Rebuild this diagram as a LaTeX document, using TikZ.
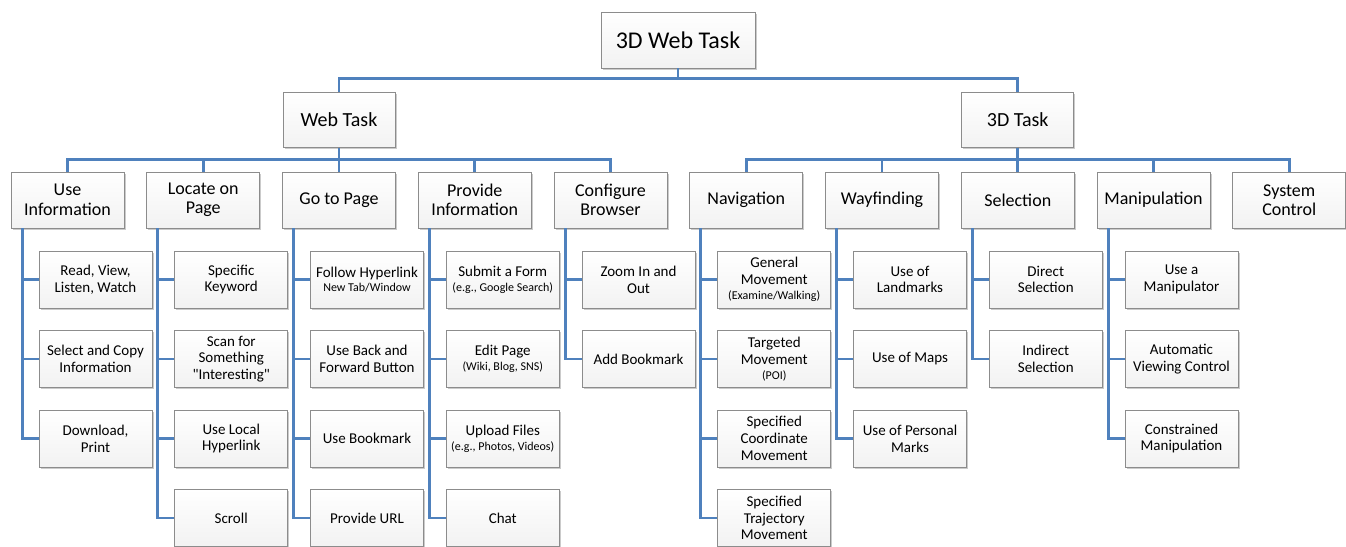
\documentclass[tikz,border=0pt]{standalone}
\usepackage{fontspec}
\newfontfamily\calibri{Carlito}
\usetikzlibrary{shadows}

\definecolor{linkblue}{RGB}{79,129,189}
\definecolor{boxline}{RGB}{140,140,140}

\tikzset{
	box/.style={rectangle, draw=boxline, line width=0.8pt, top color=white, bottom color=white!95!black, align=center, inner sep=1pt,
		drop shadow={shadow xshift=1.5pt, shadow yshift=-1.5pt, fill=black!45, opacity=0.45}},
	rootbox/.style={box, minimum width=154pt, minimum height=56pt, font=\calibri\fontsize{24}{28}\selectfont},
	mainbox/.style={box, minimum width=112pt, minimum height=55pt, font=\calibri\fontsize{20}{24}\selectfont},
	groupbox/.style={box, minimum width=113pt, minimum height=56pt, font=\calibri\fontsize{18}{19.5}\selectfont},
	taskbox/.style={box, minimum width=113pt, minimum height=57pt, font=\calibri\fontsize{15}{16.7}\selectfont},
	link/.style={draw=linkblue, line width=2.8pt},
}
\newcommand{\detail}[1]{{\fontsize{12}{13}\selectfont #1}}

\begin{document}
\begin{tikzpicture}[x=1pt, y=1pt, node distance=79.5pt]
		\useasboundingbox (0,0) rectangle (1346,-546);

		\node(web-3d)[rootbox] at (678,-40) {3D Web Task};

		% second row of groups
		\node(use-info)[groupbox] at (67.5,-200) {Use\\Information};
		\node(locate)[groupbox, node distance=135.75pt, right of=use-info] {Locate on\\Page};
		\node(go-page)[groupbox, node distance=135.75pt, right of=locate] {Go to Page};
		\node(provide)[groupbox, node distance=135.75pt, right of=go-page] {Provide\\Information};
		\node(browser)[groupbox, node distance=135.75pt, right of=provide] {Configure\\Browser};
		\node(nav)[groupbox, node distance=135.75pt, right of=browser] {Navigation};
		\node(way)[groupbox, node distance=135.75pt, right of=nav] {Wayfinding};
		\node(select)[groupbox, node distance=135.75pt, right of=way] {Selection};
		\node(manip)[groupbox, node distance=135.75pt, right of=select] {Manipulation};
		\node(system)[groupbox, node distance=135.75pt, right of=manip] {System\\Control};

		\node(web-task)[mainbox, node distance=80pt, above of=go-page] {Web Task};
		\node(task-3d)[mainbox, node distance=80pt, above of=select] {3D Task};

		% tasks
		\node(info-1)[taskbox, below of=use-info, xshift=28pt] {Read, View,\\Listen, Watch};
		\node(info-2)[taskbox, below of=info-1] {Select and Copy\\Information};
		\node(info-3)[taskbox, below of=info-2] {Download,\\Print};

		\node(locate-1)[taskbox, below of=locate, xshift=28pt] {Specific\\Keyword};
		\node(locate-2)[taskbox, below of=locate-1] {Scan for\\Something\\"Interesting"};
		\node(locate-3)[taskbox, below of=locate-2] {Use Local\\Hyperlink};
		\node(locate-4)[taskbox, below of=locate-3] {Scroll};

		\node(page-1)[taskbox, below of=go-page, xshift=28pt] {Follow Hyperlink\\[-2pt]\detail{New Tab/Window}};
		\node(page-2)[taskbox, below of=page-1] {Use Back and\\Forward Button};
		\node(page-3)[taskbox, below of=page-2] {Use Bookmark};
		\node(page-4)[taskbox, below of=page-3] {Provide URL};

		\node(provide-1)[taskbox, below of=provide, xshift=28pt] {Submit a Form\\[-2pt]\detail{(e.g., Google Search)}};
		\node(provide-2)[taskbox, below of=provide-1] {Edit Page\\[-2pt]\detail{(Wiki, Blog, SNS)}};
		\node(provide-3)[taskbox, below of=provide-2] {Upload Files\\[-2pt]\detail{(e.g., Photos, Videos)}};
		\node(provide-4)[taskbox, below of=provide-3] {Chat};

		\node(browser-1)[taskbox, below of=browser, xshift=28pt] {Zoom In and\\Out};
		\node(browser-2)[taskbox, below of=browser-1] {Add Bookmark};

		\node(nav-1)[taskbox, below of=nav, xshift=28pt] {General\\Movement\\[-2pt]\detail{(Examine/Walking)}};
		\node(nav-2)[taskbox, below of=nav-1] {Targeted\\Movement\\[-2pt]\detail{(POI)}};
		\node(nav-3)[taskbox, below of=nav-2] {Specified\\Coordinate\\Movement};
		\node(nav-4)[taskbox, below of=nav-3] {Specified\\Trajectory\\Movement};

		\node(way-1)[taskbox, below of=way, xshift=28pt] {Use of\\Landmarks};
		\node(way-2)[taskbox, below of=way-1] {Use of Maps};
		\node(way-3)[taskbox, below of=way-2] {Use of Personal\\Marks};

		\node(select-1)[taskbox, below of=select, xshift=28pt] {Direct\\Selection};
		\node(select-2)[taskbox, below of=select-1] {Indirect\\Selection};

		\node(manip-1)[taskbox, below of=manip, xshift=28pt] {Use a\\Manipulator};
		\node(manip-2)[taskbox, below of=manip-1] {Automatic\\Viewing Control};
		\node(manip-3)[taskbox, below of=manip-2] {Constrained\\Manipulation};

		% tree lines
		\draw[link] (web-3d.south) -- ++(0,-10) -| (web-task.north);
		\draw[link] (web-3d.south) -- ++(0,-10) -| (task-3d.north);

		\draw[link] (web-task.south) -- ++(0,-11.5) -| (use-info.north);
		\draw[link] (web-task.south) -- ++(0,-11.5) -| (locate.north);
		\draw[link] (web-task.south) -- (go-page.north);
		\draw[link] (web-task.south) -- ++(0,-11.5) -| (provide.north);
		\draw[link] (web-task.south) -- ++(0,-11.5) -| (browser.north);

		\draw[link] (task-3d.south) -- ++(0,-11.5) -| (nav.north);
		\draw[link] (task-3d.south) -- ++(0,-11.5) -| (way.north);
		\draw[link] (task-3d.south) -- (select.north);
		\draw[link] (task-3d.south) -- ++(0,-11.5) -| (manip.north);
		\draw[link] (task-3d.south) -- ++(0,-11.5) -| (system.north);

		\draw[link] ([xshift=11.5pt]use-info.south west) |- (info-1.west);
		\draw[link] ([xshift=11.5pt]use-info.south west) |- (info-2.west);
		\draw[link] ([xshift=11.5pt]use-info.south west) |- (info-3.west);

		\draw[link] ([xshift=11.5pt]locate.south west) |- (locate-1.west);
		\draw[link] ([xshift=11.5pt]locate.south west) |- (locate-2.west);
		\draw[link] ([xshift=11.5pt]locate.south west) |- (locate-3.west);
		\draw[link] ([xshift=11.5pt]locate.south west) |- (locate-4.west);

		\draw[link] ([xshift=11.5pt]go-page.south west) |- (page-1.west);
		\draw[link] ([xshift=11.5pt]go-page.south west) |- (page-2.west);
		\draw[link] ([xshift=11.5pt]go-page.south west) |- (page-3.west);
		\draw[link] ([xshift=11.5pt]go-page.south west) |- (page-4.west);

		\draw[link] ([xshift=11.5pt]provide.south west) |- (provide-1.west);
		\draw[link] ([xshift=11.5pt]provide.south west) |- (provide-2.west);
		\draw[link] ([xshift=11.5pt]provide.south west) |- (provide-3.west);
		\draw[link] ([xshift=11.5pt]provide.south west) |- (provide-4.west);

		\draw[link] ([xshift=11.5pt]browser.south west) |- (browser-1.west);
		\draw[link] ([xshift=11.5pt]browser.south west) |- (browser-2.west);

		\draw[link] ([xshift=11.5pt]nav.south west) |- (nav-1.west);
		\draw[link] ([xshift=11.5pt]nav.south west) |- (nav-2.west);
		\draw[link] ([xshift=11.5pt]nav.south west) |- (nav-3.west);
		\draw[link] ([xshift=11.5pt]nav.south west) |- (nav-4.west);

		\draw[link] ([xshift=11.5pt]way.south west) |- (way-1.west);
		\draw[link] ([xshift=11.5pt]way.south west) |- (way-2.west);
		\draw[link] ([xshift=11.5pt]way.south west) |- (way-3.west);

		\draw[link] ([xshift=11.5pt]select.south west) |- (select-1.west);
		\draw[link] ([xshift=11.5pt]select.south west) |- (select-2.west);

		\draw[link] ([xshift=11.5pt]manip.south west) |- (manip-1.west);
		\draw[link] ([xshift=11.5pt]manip.south west) |- (manip-2.west);
		\draw[link] ([xshift=11.5pt]manip.south west) |- (manip-3.west);
	\end{tikzpicture}
\end{document}
